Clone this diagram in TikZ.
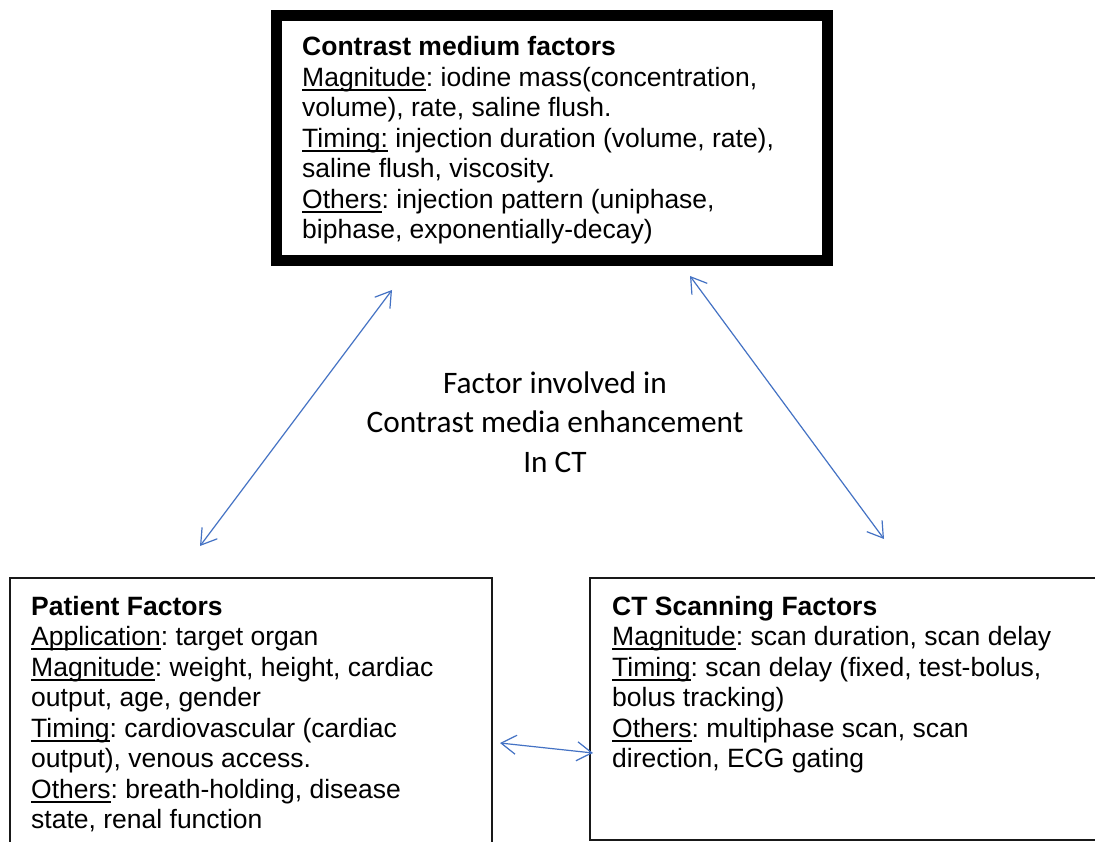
\documentclass[tikz,border=0pt]{standalone}
\usepackage{fontspec}
\setmainfont{Liberation Sans}
\newfontfamily\calibfont{Carlito}
\usetikzlibrary{arrows.meta}
\definecolor{arrowblue}{HTML}{4472C4}
\frenchspacing
\newcommand\ulword[1]{\setbox0\hbox{#1}\rlap{\rule[-4.6pt]{\wd0}{1.8pt}}\box0\relax}
\tikzset{
  bodytxt/.style={align=left, inner sep=0pt, anchor=base west, font=\fontsize{26.5}{30.5}\selectfont},
  thickbox/.style={draw=black, line width=11pt, inner sep=0pt, anchor=north west},
  thinbox/.style={draw=black!90, line width=2pt, inner sep=0pt, anchor=north west},
  link/.style={draw=arrowblue, line width=1.2pt, {Straight Barb[length=15pt,width=19pt]}-{Straight Barb[length=15pt,width=19pt]}},
  centertxt/.style={align=center, inner sep=0pt, anchor=base, font=\calibfont\fontsize{31.3}{39.5}\selectfont}
}
\begin{document}
\begin{tikzpicture}[x=1pt,y=-1pt]
\useasboundingbox (0,0) rectangle (1095,842);
\clip (0,0) rectangle (1095,842);
\fill[white] (0,0) rectangle (1095,842);

% boxes
\node[thickbox, minimum width=551pt, minimum height=245pt] (cmbox) at (271,10) {};
\node[thinbox, minimum width=482pt, minimum height=300pt] (ptbox) at (9,577) {};
\node[thinbox, minimum width=520pt, minimum height=262pt] (ctbox) at (589,577) {};

% texts (anchored at the baseline of the last line)
\node[bodytxt] (cmtext) at (302,239) {\textbf{Contrast medium factors}\\
\ulword{Magnitude}: iodine mass(concentration,\\
volume), rate, saline flush.\\
\ulword{Timing:} injection duration (volume, rate),\\
saline flush, viscosity.\\
\ulword{Others}: injection pattern (uniphase,\\
biphase, exponentially-decay)};

\node[bodytxt] (pttext) at (31,828.5) {\textbf{Patient Factors}\\
\ulword{Application}: target organ\\
\ulword{Magnitude}: weight, height, cardiac\\
output, age, gender\\
\ulword{Timing}: cardiovascular (cardiac\\
output), venous access.\\
\ulword{Others}: breath-holding, disease\\
state, renal function};

\node[bodytxt] (cttext) at (612,767.5) {\textbf{CT Scanning Factors}\\
\ulword{Magnitude}: scan duration, scan delay\\
\ulword{Timing}: scan delay (fixed, test-bolus,\\
bolus tracking)\\
\ulword{Others}: multiphase scan, scan\\
direction, ECG gating};

\node[centertxt] (title) at (555,472) {Factor involved in\\Contrast media enhancement\\In CT};

% connector end points
\coordinate (a1s) at (392,290);
\coordinate (a1e) at (200,546);
\coordinate (a2s) at (690,276);
\coordinate (a2e) at (884,539);
\coordinate (a3s) at (500,743);
\coordinate (a3e) at (593,753);

\draw[link] (a1s) -- (a1e);
\draw[link] (a2s) -- (a2e);
\draw[link] (a3s) -- (a3e);
\end{tikzpicture}
\end{document}
